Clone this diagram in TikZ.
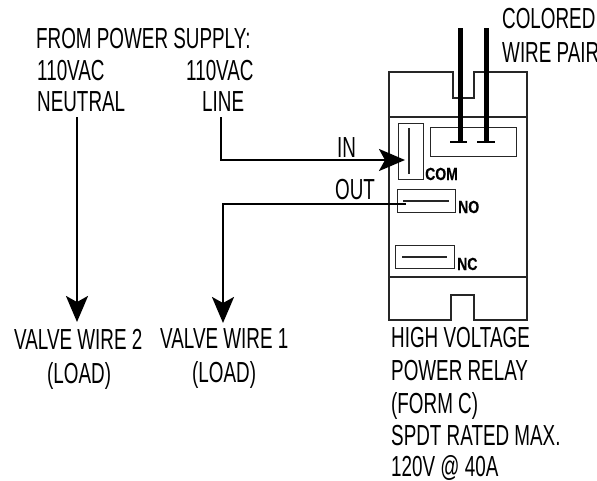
\documentclass[tikz,border=0pt]{standalone}
\usepackage{fontspec}
\usetikzlibrary{arrows.meta}
\newfontfamily\condf[FakeStretch=0.65]{Liberation Sans}
\newfontfamily\boldf[FakeStretch=0.8,FakeBold=0.6]{Liberation Sans Bold}
\tikzset{
  lbl/.style={font=\condf\fontsize{29}{33}\selectfont, inner sep=0pt, anchor=base west, align=left},
  term/.style={font=\boldf\fontsize{17.5}{18}\selectfont, inner sep=0pt, anchor=base west},
  relay/.style={draw=black!85, line width=1.4pt},
  contact/.style={draw=black!85, line width=1.2pt},
  wirepair/.style={draw=black, line width=5pt},
  feed/.style={draw=black, line width=2.6pt, -{Stealth[length=26pt,width=22pt,inset=6pt]}}
}
\begin{document}
\begin{tikzpicture}[x=1pt,y=-1pt]
\useasboundingbox (0,0) rectangle (597,480);
% relay body
\draw[relay] (389,72) -- (453,72) -- (453,98) -- (474,98) -- (474,72) -- (527,72) -- (527,320) -- (474,320) -- (474,295) -- (451,295) -- (451,320) -- (389,320) -- cycle;
\draw[relay] (389,117) -- (527,117);
\draw[relay] (389,277) -- (527,277);
% contacts
\node[contact,minimum width=25pt,minimum height=56pt,inner sep=0pt,anchor=north west] (combox) at (398,123) {};
\draw[contact] (409,128) -- (409,174);
\node[contact,minimum width=86pt,minimum height=29pt,inner sep=0pt,anchor=north west] (pairbox) at (430,127) {};
\node[contact,minimum width=58pt,minimum height=23pt,inner sep=0pt,anchor=north west] (nobox) at (397,189) {};
\draw[contact] (403,201) -- (449,201);
\node[contact,minimum width=59pt,minimum height=23pt,inner sep=0pt,anchor=north west] (ncbox) at (395,245) {};
\draw[contact] (402,257) -- (447,257);
% coloured wire pair
\coordinate (w1a) at (460,28); \coordinate (w1b) at (460,142);
\coordinate (w2a) at (486,28); \coordinate (w2b) at (486,142);
\draw[wirepair] (w1a) -- (w1b);
\draw[wirepair] (w2a) -- (w2b);
\draw[line width=1.4pt] (450,142) -- (467,142);
\draw[line width=1.4pt] (477,142) -- (495,142);
% text
\node[lbl] (colored) at (502,28) {COLORED};
\node[lbl] (wirepair) at (502,62) {WIRE PAIR};
\node[lbl] (from) at (36,48) {FROM POWER SUPPLY:};
\node[lbl] (neutral1) at (37,80) {110VAC};
\node[lbl] (neutral2) at (37,111) {NEUTRAL};
\node[lbl] (line1) at (186,80) {110VAC};
\node[lbl] (line2) at (202,111) {LINE};
\node[lbl] (inlbl) at (337,157) {IN};
\node[lbl] (outlbl) at (335,199) {OUT};
\node[lbl] (vw2a) at (14,349) {VALVE WIRE 2};
\node[lbl] (vw2b) at (47,383) {(LOAD)};
\node[lbl] (vw1a) at (160,348) {VALVE WIRE 1};
\node[lbl] (vw1b) at (192,382) {(LOAD)};
\node[lbl] (r1) at (391,347) {HIGH VOLTAGE};
\node[lbl] (r2) at (391,380) {POWER RELAY};
\node[lbl] (r3) at (391,413) {(FORM C)};
\node[lbl] (r4) at (391,445) {SPDT RATED MAX.};
\node[lbl] (r5) at (391,476) {120V @ 40A};
\node[term] (com) at (425,180) {COM};
\node[term] (no) at (458,213) {NO};
\node[term] (nc) at (457,270) {NC};
% connectors
\coordinate (neutralstart) at (77,117);
\coordinate (neutralend) at (77,322);
\coordinate (linestart) at (221,117);
\coordinate (linecorner) at (221,160);
\coordinate (comend) at (405,160);
\coordinate (nostart) at (406,204);
\coordinate (nocorner) at (223,204);
\coordinate (loadend) at (223,323);
\draw[feed] (neutralstart) -- (neutralend);
\draw[feed] (linestart) -- (linecorner) -- (comend);
\draw[feed] (nostart) -- (nocorner) -- (loadend);
\end{tikzpicture}
\end{document}
